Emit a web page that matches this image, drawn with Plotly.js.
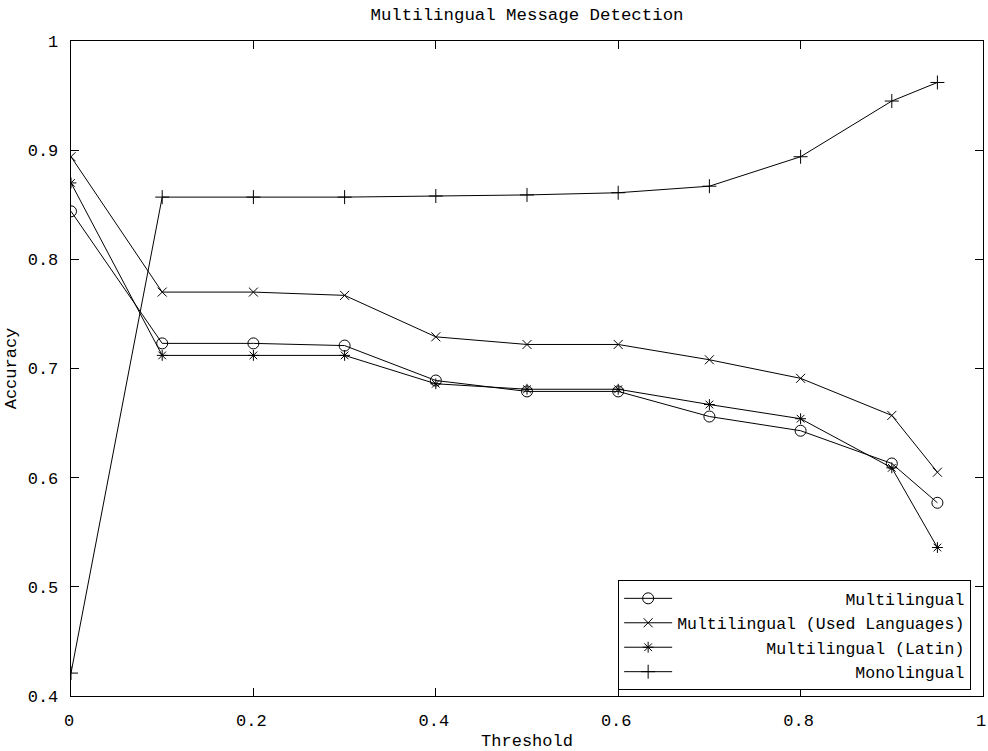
<!DOCTYPE html>
<html>
<head>
<meta charset="utf-8">
<script src="https://cdn.plot.ly/plotly-3.0.1.min.js"></script>
<style>html,body{margin:0;padding:0;background:#fff;}#chart{width:988px;height:751px;}</style>
</head>
<body>
<div id="chart"></div>
<script>
var thresholds = [0, 0.1, 0.2, 0.3, 0.4, 0.5, 0.6, 0.7, 0.8, 0.9, 0.95];
var multilingual = [0.844, 0.723, 0.723, 0.721, 0.689, 0.679, 0.679, 0.656, 0.643, 0.613, 0.577];
var multilingualUsed = [0.894, 0.770, 0.770, 0.767, 0.729, 0.722, 0.722, 0.708, 0.691, 0.657, 0.605];
var multilingualLatin = [0.870, 0.712, 0.712, 0.712, 0.686, 0.681, 0.681, 0.667, 0.654, 0.609, 0.536];
var monolingual = [0.421, 0.857, 0.857, 0.857, 0.858, 0.859, 0.861, 0.867, 0.894, 0.945, 0.962];
var seriesNames = ["Multilingual", "Multilingual (Used Languages)", "Multilingual (Latin)", "Monolingual"];
var xTicks = [0, 0.2, 0.4, 0.6, 0.8, 1];
var yTicks = [0.4, 0.5, 0.6, 0.7, 0.8, 0.9, 1];

var FONT = "Liberation Mono, Courier New, monospace";
var maxLen = Math.max.apply(null, seriesNames.map(function(s){return s.length;}));
function pad(s){ return "\u00A0".repeat(maxLen - s.length) + s; }

function mk(y, name, symbol, size){
  return {
    x: thresholds, y: y, name: pad(name), type: "scatter", mode: "lines+markers",
    line: {color: "#000", width: 1},
    marker: {symbol: symbol, size: size, color: "#000", line: {color: "#000", width: 1}}
  };
}
var data = [
  mk(multilingual, seriesNames[0], "circle-open", 11),
  mk(multilingualUsed, seriesNames[1], "x-thin-open", 9),
  mk(multilingualLatin, seriesNames[2], "asterisk-open", 9),
  mk(monolingual, seriesNames[3], "cross-thin-open", 10)
];

var axisCommon = {
  showline: true, linecolor: "#000", linewidth: 1.3, mirror: "ticks",
  ticks: "inside", ticklen: 8, tickwidth: 1, tickcolor: "#000",
  showgrid: false, zeroline: false,
  tickfont: {family: FONT, size: 17, color: "#000"},
  ticklabelstandoff: 8, ticklabeloverflow: "allow"
};

var layout = {
  width: 988, height: 751,
  margin: {l: 71, r: 5, t: 41, b: 55},
  paper_bgcolor: "#fff", plot_bgcolor: "#fff",
  font: {family: FONT, size: 17, color: "#000"},
  title: {text: "Multilingual Message Detection", font: {family: FONT, size: 17.4, color: "#000"},
          xref: "paper", x: 0.5, xanchor: "center", yref: "container", y: 0.981, yanchor: "middle"},
  xaxis: Object.assign({}, axisCommon, {
    range: [0, 1], tickvals: xTicks, ticktext: xTicks.map(String), ticklabelshift: -2,
    title: {text: "Threshold", font: {family: FONT, size: 17, color: "#000"}, standoff: 4}
  }),
  yaxis: Object.assign({}, axisCommon, {
    range: [0.4, 1], tickvals: yTicks, ticktext: yTicks.map(String),
    title: {text: "Accuracy", font: {family: FONT, size: 17, color: "#000"}, standoff: 6}
  }),
  showlegend: true,
  legend: {
    x: 0.987, xanchor: "right", y: 0.009, yanchor: "bottom",
    bgcolor: "#fff", bordercolor: "#000", borderwidth: 1,
    font: {family: FONT, size: 16.5, color: "#000"},
    itemwidth: 48, traceorder: "normal", itemclick: false
  }
};

Plotly.newPlot("chart", data, layout, {staticPlot: true, displayModeBar: false});
</script>
</body>
</html>
